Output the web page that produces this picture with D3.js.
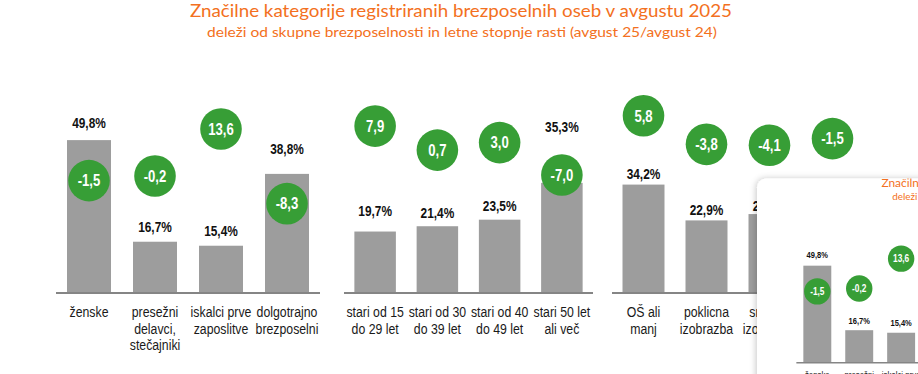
<!DOCTYPE html>
<html>
<head>
<meta charset="utf-8">
<script src="https://cdn.jsdelivr.net/npm/d3@7"></script>
<style>
    body { margin: 0; background: #fff; }
    svg { display: block; }
    .narrow { font-family: "Liberation Sans Narrow", "Arial Narrow", "Liberation Sans", Arial, sans-serif; }
    .title { font-family: Lato, "Open Sans", sans-serif; fill: #f37021; }
</style>
</head>
<body>
<div id="main"></div>
<script>
const titleText = 'Značilne kategorije registriranih brezposelnih oseb v avgustu 2025';
const subtitleText = 'deleži od skupne brezposelnosti in letne stopnje rasti (avgust 25/avgust 24)';

// skupina 1: spol, status
const labelsA = [['ženske'], ['presežni', 'delavci,', 'stečajniki'], ['iskalci prve', 'zaposlitve'], ['dolgotrajno', 'brezposelni']];
const sharesA = [49.8, 16.7, 15.4, 38.8];
const growthA = [-1.5, -0.2, 13.6, -8.3];

// skupina 2: starost
const labelsB = [['stari od 15', 'do 29 let'], ['stari od 30', 'do 39 let'], ['stari od 40', 'do 49 let'], ['stari 50 let', 'ali več']];
const sharesB = [19.7, 21.4, 23.5, 35.3];
const growthB = [7.9, 0.7, 3.0, -7.0];

// skupina 3: izobrazba
const labelsC = [['OŠ ali', 'manj'], ['poklicna', 'izobrazba'], ['srednja', 'izobrazba'], ['višja, visoka', 'izobrazba']];
const sharesC = [34.2, 22.9, 24.9, 18.0];
const growthC = [5.8, -3.8, -4.1, -1.5];

const W = 918, H = 374, baseY = 293;
const squeeze = 0.82;   // no narrow font installed -> squash Liberation Sans

// layout only (px ranges, bubble heights in % units, label gaps)
const layout = [
    { labels: labelsA, shares: sharesA, growth: growthA, x: [56, 320], top: 153.5, bubble: [36.6, 38.1, 53.4, 29.1], gap: [12, 10, 10, 19.5] },
    { labels: labelsB, shares: sharesB, growth: growthB, x: [344, 593], top: 156, bubble: [53.5, 45.8, 48.2, 37.8], gap: [15.5, 8.5, 9, 51] },
    { labels: labelsC, shares: sharesC, growth: growthC, x: [612, 864], top: 158.5, bubble: [55.9, 46.9, 46.6, 48.7], gap: [5.6, 5, 3, 5] }
];

const loc = d3.formatLocale({ decimal: ',', thousands: '.', grouping: [3], currency: ['', ' €'], minus: '-' });
const fmt = loc.format('.1f');

const at = (px, py) => 'translate(' + px + ',' + py + ') scale(' + squeeze + ',1)';

const drawChart = (g) => {
    g.append('text')
        .attr('class', 'title')
        .attr('x', 190).attr('y', 16.5)
        .attr('font-size', 16.5)
        .attr('textLength', 542).attr('lengthAdjust', 'spacingAndGlyphs')
        .text(titleText);

    g.append('text')
        .attr('class', 'title')
        .attr('x', 207).attr('y', 37.3)
        .attr('font-size', 13.5)
        .attr('textLength', 510).attr('lengthAdjust', 'spacingAndGlyphs')
        .text(subtitleText);

    layout.forEach(grp => {
        const idx = d3.range(grp.shares.length);
        const x = d3.scaleBand().domain(idx).range(grp.x).paddingInner(1 / 3).paddingOuter(1 / 6);
        const y = d3.scaleLinear().domain([0, 50]).range([baseY, baseY - grp.top]);
        const cx = i => x(i) + x.bandwidth() / 2;
        const gg = g.append('g');

        gg.selectAll('rect.bar')
            .data(idx)
            .enter()
            .append('rect')
            .attr('class', 'bar')
            .attr('x', i => x(i))
            .attr('y', i => y(grp.shares[i]))
            .attr('width', x.bandwidth())
            .attr('height', i => baseY - y(grp.shares[i]))
            .attr('fill', '#9d9d9d');

        gg.append('line')
            .attr('x1', grp.x[0]).attr('x2', grp.x[1])
            .attr('y1', baseY).attr('y2', baseY)
            .attr('stroke', '#858585')
            .attr('stroke-width', 2);

        gg.selectAll('text.val')
            .data(idx)
            .enter()
            .append('text')
            .attr('class', 'val narrow')
            .attr('transform', i => at(cx(i), y(grp.shares[i]) - grp.gap[i]))
            .attr('text-anchor', 'middle')
            .attr('font-size', 14.5)
            .attr('font-weight', 'bold')
            .attr('fill', '#111')
            .text(i => fmt(grp.shares[i]) + '%');

        gg.selectAll('circle')
            .data(idx)
            .enter()
            .append('circle')
            .attr('cx', cx)
            .attr('cy', i => y(grp.bubble[i]))
            .attr('r', 20.8)
            .attr('fill', '#379e36');

        gg.selectAll('text.gr')
            .data(idx)
            .enter()
            .append('text')
            .attr('class', 'gr narrow')
            .attr('transform', i => at(cx(i), y(grp.bubble[i]) + 5.8))
            .attr('text-anchor', 'middle')
            .attr('font-size', 16)
            .attr('font-weight', 'bold')
            .attr('fill', '#fff')
            .text(i => fmt(grp.growth[i]));

        const cat = gg.selectAll('text.cat')
            .data(idx)
            .enter()
            .append('text')
            .attr('class', 'cat narrow')
            .attr('transform', i => at(cx(i), 317))
            .attr('text-anchor', 'middle')
            .attr('font-size', 15)
            .attr('fill', '#1a1a1a');
        cat.selectAll('tspan')
            .data(i => grp.labels[i])
            .enter()
            .append('tspan')
            .attr('x', 0)
            .attr('y', (d, j) => j * 16.6)
            .text(d => d);
    });
};

const svg = d3.select('#main').append('svg')
    .attr('width', W)
    .attr('height', H);

const defs = svg.append('defs');
const filt = defs.append('filter').attr('id', 'shadow')
    .attr('x', -0.2).attr('y', -0.2).attr('width', 1.4).attr('height', 1.4);
filt.append('feDropShadow')
    .attr('dx', -1).attr('dy', 0)
    .attr('stdDeviation', 3)
    .attr('flood-color', '#000')
    .attr('flood-opacity', 0.22);
defs.append('clipPath').attr('id', 'insetClip')
    .append('rect')
    .attr('x', 757).attr('y', 178.5)
    .attr('width', 200).attr('height', 220)
    .attr('rx', 9);

drawChart(svg.append('g'));

// small preview window in the corner
const inset = svg.append('g');
inset.append('rect')
    .attr('x', 757).attr('y', 178.5)
    .attr('width', 200).attr('height', 220)
    .attr('rx', 9)
    .attr('fill', '#fff')
    .attr('filter', 'url(#shadow)');
drawChart(inset.append('g')
    .attr('clip-path', 'url(#insetClip)')
    .append('g')
    .attr('transform', 'translate(760.8,176.7) scale(0.635)'));
</script>
</body>
</html>
